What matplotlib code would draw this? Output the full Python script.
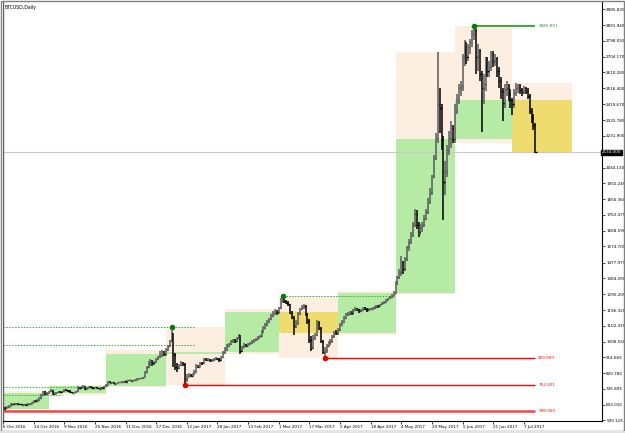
import matplotlib
matplotlib.use("Agg")
import matplotlib.pyplot as plt
from matplotlib.patches import Rectangle
import pandas as pd

# daily BTCUSD bars, first bar 8 Oct 2016
first_open = 606
closes = [
    # Oct
    617, 616, 619, 628, 637, 636, 638, 640, 638, 636, 634, 636, 632, 638, 640, 648, 656, 655, 660, 672,
    690, 712, 698, 700,
    # Nov
    712, 718, 695, 703, 706, 711, 706, 712, 722, 718, 716, 708, 705, 707, 713, 735, 733, 740, 742, 728,
    734, 740, 735, 732, 737, 731, 728, 733, 732, 742,
    # Dec
    752, 770, 764, 766, 757, 762, 766, 768, 770, 772, 768, 778, 779, 776, 777, 782, 788, 789, 790, 797,
    828, 856, 880, 884, 882, 888, 905, 915, 926, 935, 932,
    # Jan
    960, 985, 1010, 1050, 930, 860, 850, 872, 880, 876, 785, 800, 812, 806, 818, 830, 866, 858, 884, 880,
    905, 900, 904, 896, 898, 906, 908, 904, 900, 914, 944,
    # Feb
    965, 985, 992, 1010, 1015, 1012, 1030, 1040, 955, 975, 990, 985, 995, 998, 1010, 1015, 1025, 1035,
    1040, 1070, 1090, 1110, 1125, 1140, 1160, 1175, 1185, 1182,
    # Mar
    1210, 1255, 1262, 1250, 1240, 1230, 1180, 1150, 1100, 1120, 1175, 1200, 1215, 1222, 1170, 1130, 1020,
    970, 1030, 1045, 1120, 1090, 1010, 945, 960, 985, 1000, 1010, 1040, 1060, 1057,
    # Apr
    1080, 1110, 1125, 1150, 1170, 1175, 1180, 1178, 1195, 1205, 1200, 1190, 1195, 1210, 1205, 1195, 1200,
    1205, 1210, 1215, 1220, 1218, 1230, 1240, 1245, 1255, 1265, 1275, 1282, 1295,
    # May
    1360, 1390, 1420, 1480, 1440, 1500, 1570, 1600, 1640, 1700, 1770, 1700, 1660, 1690, 1700, 1740, 1780,
    1840, 1890, 1990, 2100, 2220, 2420, 2400, 2210, 1960, 2020, 2150, 2220, 2280, 2211,
    # Jun
    2380, 2450, 2520, 2530, 2700, 2780, 2700, 2760, 2790, 2840, 2860, 2700, 2740, 2600, 2520, 2540, 2680,
    2620, 2640, 2720, 2680, 2690, 2620, 2560, 2500, 2430, 2510, 2520, 2480, 2443,
    # Jul
    2420, 2490, 2520, 2530, 2505, 2495, 2515, 2500, 2470, 2380, 2340, 2300, 2134,
]
highs = [
    621, 620, 624, 632, 642, 640, 642, 644, 642, 640, 638, 640, 637, 642, 644, 652, 662, 662, 664, 676,
    695, 712, 712, 706,
    716, 724, 720, 708, 710, 716, 713, 716, 728, 725, 720, 718, 710, 710, 716, 742, 740, 745, 748, 744,
    738, 746, 742, 738, 741, 740, 734, 736, 736, 746,
    755, 774, 772, 770, 768, 765, 770, 771, 774, 776, 774, 781, 782, 781, 780, 785, 792, 792, 794, 800,
    832, 865, 895, 905, 896, 892, 912, 925, 952, 960, 950,
    970, 990, 1020, 1093, 1060, 940, 880, 878, 892, 890, 880, 815, 822, 818, 824, 838, 878, 872, 890, 890,
    912, 910, 910, 906, 904, 912, 916, 912, 908, 920, 952,
    975, 992, 1000, 1020, 1025, 1022, 1038, 1055, 1045, 985, 998, 995, 1002, 1005, 1016, 1022, 1032, 1042,
    1048, 1078, 1100, 1118, 1135, 1150, 1172, 1190, 1200, 1195,
    1215, 1270, 1277, 1268, 1258, 1248, 1235, 1188, 1160, 1135, 1182, 1208, 1225, 1235, 1228, 1178, 1140,
    1040, 1045, 1060, 1135, 1130, 1095, 1020, 975, 995, 1012, 1022, 1048, 1070, 1075,
    1090, 1118, 1135, 1160, 1180, 1185, 1190, 1188, 1200, 1212, 1210, 1205, 1202, 1215, 1215, 1206, 1208,
    1210, 1215, 1220, 1228, 1226, 1235, 1245, 1252, 1262, 1270, 1282, 1290, 1310,
    1370, 1400, 1440, 1520, 1490, 1510, 1580, 1620, 1660, 1720, 1800, 1790, 1720, 1710, 1720, 1760, 1800,
    1860, 1920, 2000, 2120, 2250, 2729, 2520, 2420, 2230, 2080, 2180, 2260, 2320, 2300,
    2420, 2480, 2540, 2560, 2720, 2800, 2790, 2780, 2810, 2860, 2885, 2870, 2780, 2750, 2620, 2600, 2700,
    2700, 2680, 2740, 2740, 2720, 2700, 2640, 2580, 2520, 2540, 2560, 2540, 2510,
    2460, 2510, 2545, 2540, 2540, 2520, 2530, 2525, 2515, 2480, 2400, 2360, 2310,
]
lows = [
    604, 598, 612, 614, 624, 631, 633, 634, 633, 630, 629, 630, 627, 630, 634, 636, 644, 650, 650, 657,
    668, 686, 690, 692,
    696, 708, 690, 692, 700, 702, 700, 703, 708, 712, 710, 704, 700, 701, 703, 711, 728, 730, 736, 722,
    726, 732, 730, 728, 730, 727, 724, 726, 728, 730,
    738, 750, 760, 760, 754, 755, 760, 764, 766, 768, 763, 765, 774, 772, 773, 775, 780, 784, 786, 788,
    796, 824, 850, 862, 866, 872, 884, 898, 910, 918, 922,
    925, 955, 980, 1005, 860, 840, 828, 845, 866, 866, 752, 770, 795, 796, 800, 815, 825, 850, 855, 870,
    878, 892, 894, 885, 888, 894, 900, 896, 890, 896, 908,
    935, 955, 978, 988, 1002, 1000, 1008, 1025, 935, 945, 970, 975, 980, 988, 995, 1002, 1010, 1020,
    1028, 1036, 1062, 1085, 1100, 1118, 1135, 1155, 1170, 1165,
    1175, 1205, 1240, 1238, 1230, 1220, 1170, 1140, 1045, 1090, 1110, 1168, 1195, 1205, 1160, 1115, 1000,
    955, 965, 1020, 1040, 1075, 1000, 935, 911, 940, 975, 990, 1002, 1030, 1045,
    1050, 1070, 1100, 1120, 1140, 1160, 1165, 1165, 1170, 1188, 1190, 1180, 1185, 1188, 1196, 1185, 1188,
    1195, 1200, 1205, 1208, 1210, 1212, 1225, 1235, 1240, 1250, 1260, 1270, 1278,
    1290, 1345, 1380, 1400, 1410, 1430, 1490, 1550, 1590, 1630, 1690, 1680, 1630, 1640, 1660, 1690, 1730,
    1770, 1830, 1880, 1980, 2090, 2190, 2250, 2150, 1729, 1880, 1990, 2120, 2160, 2190,
    2188, 2360, 2420, 2470, 2500, 2650, 2660, 2680, 2720, 2760, 2800, 2600, 2620, 2560, 2253, 2420, 2500,
    2580, 2580, 2620, 2640, 2650, 2580, 2520, 2450, 2320, 2400, 2470, 2440, 2400,
    2354, 2400, 2470, 2490, 2480, 2470, 2480, 2480, 2450, 2360, 2310, 2270, 2128,
]

# marked levels: (price, label)
high_mark = (2885.891, "2885.891")
low_marks = [(752.001, "752.001"), (911.0, "909.000")]
base_mark = (598.0, "598.000")
last_price = 2134.0

# price scale labels as printed on the right
price_ticks = [2985.825, 2891.940, 2798.055, 2704.170, 2610.285, 2516.400, 2419.670, 2325.785,
               2231.900, 2044.130, 1950.245, 1856.360, 1762.475, 1668.590, 1574.705, 1477.975,
               1384.090, 1290.205, 1196.320, 1102.435, 1008.550, 914.665, 820.780, 726.895,
               633.010, 539.125]
date_ticks = ["2016-10-08", "2016-10-24", "2016-11-09", "2016-11-25", "2016-12-11", "2016-12-27",
              "2017-01-12", "2017-01-28", "2017-02-13", "2017-03-01", "2017-03-17", "2017-04-02",
              "2017-04-18", "2017-05-04", "2017-05-20", "2017-06-05", "2017-06-21", "2017-07-07"]
date_labels = ["6 Oct 2016", "24 Oct 2016", "9 Nov 2016", "25 Nov 2016", "11 Dec 2016",
               "27 Dec 2016", "12 Jan 2017", "28 Jan 2017", "13 Feb 2017", "1 Mar 2017",
               "17 Mar 2017", "2 Apr 2017", "18 Apr 2017", "4 May 2017", "20 May 2017",
               "5 Jun 2017", "21 Jun 2017", "7 Jul 2017"]

start = pd.Timestamp("2016-10-08")
dates = pd.date_range(start, periods=len(closes), freq="D")
opens = [first_open] + closes[:-1]
df = pd.DataFrame({"o": opens, "h": highs, "l": lows, "c": closes}, index=dates)
df["x"] = (df.index - start).days

monthly = df.resample("MS").agg({"o": "first", "h": "max", "l": "min", "c": "last"})

fig = plt.figure(figsize=(6.25, 4.33), dpi=100)
fig.patch.set_facecolor("white")
ax = fig.add_axes([3 / 625, 1 - 421 / 433, 599 / 625, 419 / 433])
ax.set_xlim(0, 312.8)
ax.set_ylim(536, 3029)

# monthly range / body boxes
for m, row in monthly.iterrows():
    x0 = (m - start).days
    x1 = (m + pd.offsets.MonthBegin(1) - start).days
    ax.add_patch(Rectangle((x0, row.l), x1 - x0, row.h - row.l, facecolor="#fdeee2",
                           edgecolor="none", zorder=1))
    body = "#b6eba6" if row.c >= row.o else "#eedc6e"
    ax.add_patch(Rectangle((x0, min(row.o, row.c)), x1 - x0, abs(row.c - row.o),
                           facecolor=body, edgecolor="none", zorder=1.5))

last_x = df["x"].iloc[-1]

# current price line
ax.axhline(last_price, color="#c8c8c8", lw=0.8, zorder=2)

# dotted swing levels
dotted = [(1093, 0, 100), (990, 0, 100), (736, 0, 53), (690, 0, 31), (1277, 146, 202)]
for lvl, a, b in dotted:
    ax.hlines(lvl, a, b, colors="#2db52d", linestyles=(0, (1.5, 1.5)), lw=0.7, zorder=2)

# OHLC bars
up = df["c"] >= df["o"]
col = ["#5a5a5a" if u else "#000000" for u in up]
ax.vlines(df["x"], df["l"], df["h"], colors=col, lw=1.1, zorder=3)
ax.hlines(df["o"], df["x"] - 0.6, df["x"], colors=col, lw=1.0, zorder=3)
ax.hlines(df["c"], df["x"], df["x"] + 0.6, colors=col, lw=1.0, zorder=3)

# swing high / low markers
peaks = df.loc[["2017-01-04", "2017-03-03", "2017-06-11"]]
ax.plot(peaks["x"], peaks["h"], "o", color="#0a7a0a", ms=3, zorder=5)
ax.hlines(high_mark[0], peaks["x"].iloc[-1], last_x, colors="#1e9b1e", lw=1.2, zorder=4)
ax.text(last_x + 1.5, high_mark[0], high_mark[1], color="#2a9a2a", fontsize=3, va="center")

troughs = df.loc[["2017-01-11", "2017-03-25"]]
ax.plot(troughs["x"], troughs["l"], "o", color="#e00000", ms=3, zorder=5)
for (lvl, lab), tx in zip(low_marks, troughs["x"]):
    ax.hlines(lvl, tx, last_x, colors="#ff0000", lw=1.0, zorder=4)
    ax.text(last_x + 1.5, lvl, lab, color="#ff0000", fontsize=3, va="center")
ax.hlines(base_mark[0], 0, last_x, colors="#f04848", lw=1.8, zorder=4)
ax.text(last_x + 1.5, base_mark[0], base_mark[1], color="#ff0000", fontsize=3, va="center")

# axes styling
for s in ["top", "left"]:
    ax.spines[s].set_visible(False)
ax.spines["right"].set_linewidth(0.8)
ax.spines["bottom"].set_linewidth(0.8)
ax.yaxis.tick_right()
ax.set_yticks(price_ticks)
ax.set_yticklabels([f"{p:.3f}" for p in price_ticks])
ax.tick_params(axis="y", length=2, width=0.5, pad=1, labelsize=3)
ax.set_xticks([(pd.Timestamp(d) - start).days for d in date_ticks])
ax.set_xticklabels(date_labels, ha="left")
ax.tick_params(axis="x", length=2, width=0.5, pad=1, labelsize=3)
ax.text(1.0, last_price, "2134.000", transform=ax.get_yaxis_transform(), fontsize=3,
        color="white", va="center", ha="left",
        bbox=dict(boxstyle="square,pad=0.15", fc="black", ec="black"))
ax.text(0.003, 0.992, "BTCUSD,Daily", transform=ax.transAxes, fontsize=3.3, va="top")

# window frame
fig.add_artist(Rectangle((0.5 / 625, 2 / 433), 623.5 / 625, 430.5 / 433, transform=fig.transFigure,
                         fill=False, edgecolor="#808080", lw=1.0))
fig.add_artist(Rectangle((0, 0), 1, 2 / 433, transform=fig.transFigure, facecolor="#e4e4e4",
                         edgecolor="none"))
ax.axvline(0, color="#606060", lw=1.0)

fig.savefig("out.png", dpi=100)
